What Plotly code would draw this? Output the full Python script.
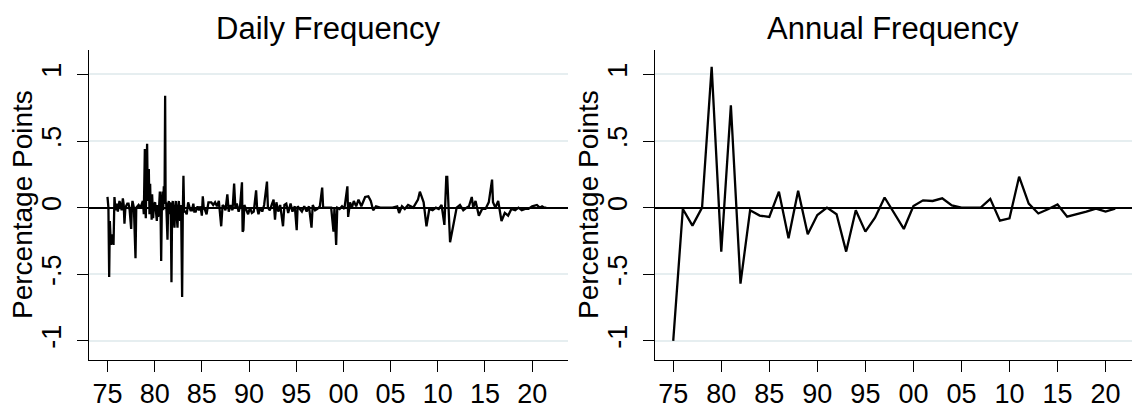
# Daily vs annual frequency, two panels

import plotly.graph_objects as go

# daily changes (decimal year, percentage points)
daily_year = [
    1975.00, 1975.10, 1975.18, 1975.25, 1975.36, 1975.50, 1975.64, 1975.70, 1975.74, 1975.85,
    1975.99, 1976.10, 1976.27, 1976.40, 1976.50, 1976.63, 1976.72, 1976.80, 1976.90, 1977.10,
    1977.23, 1977.35, 1977.51, 1977.58, 1977.65, 1977.80, 1977.97, 1978.05, 1978.30, 1978.50,
    1978.75, 1978.85, 1978.96, 1979.02, 1979.06, 1979.14, 1979.20, 1979.27, 1979.38, 1979.45,
    1979.52, 1979.58, 1979.63, 1979.68, 1979.73, 1979.84, 1979.92, 1980.05, 1980.12, 1980.23,
    1980.30, 1980.37, 1980.45, 1980.55, 1980.62, 1980.69, 1980.76, 1980.83, 1980.90, 1980.97,
    1981.05, 1981.11, 1981.16, 1981.22, 1981.29, 1981.36, 1981.43, 1981.50, 1981.57, 1981.64,
    1981.71, 1981.78, 1981.85, 1981.92, 1982.00, 1982.10, 1982.17, 1982.24, 1982.33, 1982.42,
    1982.49, 1982.56, 1982.63, 1982.70, 1982.80, 1982.91, 1982.98, 1983.05, 1983.12, 1983.25,
    1983.40, 1983.55, 1983.70, 1983.80, 1983.95, 1984.10, 1984.20, 1984.35, 1984.55, 1984.70,
    1984.85, 1985.00, 1985.10, 1985.20, 1985.35, 1985.50, 1985.70, 1986.00, 1986.20, 1986.40,
    1986.60, 1986.80, 1987.05, 1987.20, 1987.35, 1987.50, 1987.70, 1987.85, 1988.05, 1988.25,
    1988.42, 1988.55, 1988.70, 1988.90, 1989.05, 1989.25, 1989.32, 1989.40, 1989.50, 1989.70,
    1989.90, 1990.10, 1990.30, 1990.50, 1990.75, 1990.85, 1991.00, 1991.20, 1991.40, 1991.60,
    1991.90, 1992.00, 1992.20, 1992.40, 1992.60, 1992.75, 1992.90, 1993.10, 1993.30, 1993.60,
    1993.75, 1993.95, 1994.15, 1994.40, 1994.60, 1994.85, 1995.05, 1995.15, 1995.35, 1995.60,
    1995.85, 1996.10, 1996.35, 1996.62, 1996.75, 1997.00, 1997.25, 1997.50, 1997.75, 1997.85,
    1998.10, 1998.40, 1998.70, 1998.95, 1999.05, 1999.23, 1999.35, 1999.60, 1999.85, 2000.10,
    2000.42, 2000.50, 2000.70, 2000.90, 2001.10, 2001.35, 2001.60, 2001.90, 2002.30, 2002.64,
    2002.90, 2003.15, 2003.45, 2003.90, 2004.50, 2005.20, 2005.70, 2005.90, 2006.20, 2006.50,
    2006.85, 2007.40, 2007.90, 2008.10, 2008.30, 2008.50, 2008.80, 2009.10, 2009.45, 2009.80,
    2010.10, 2010.40, 2010.70, 2010.90, 2011.00, 2011.30, 2011.65, 2012.00, 2012.35, 2012.70,
    2013.05, 2013.30, 2013.60, 2013.75, 2014.00, 2014.35, 2014.70, 2015.05, 2015.40, 2015.75,
    2015.85, 2016.10, 2016.40, 2016.75, 2017.10, 2017.45, 2017.80, 2018.20, 2018.55, 2018.90,
    2019.25, 2019.60, 2020.00, 2020.50, 2020.80, 2021.05, 2021.30, 2021.50,
]
daily_change = [
    0.08, 0.00, -0.52, -0.10, -0.28, -0.20, -0.28, 0.00, 0.08, -0.02,
    0.03, -0.03, 0.05, 0.02, -0.02, 0.07, 0.02, -0.12, 0.00, 0.03,
    0.03, -0.02, -0.16, 0.00, 0.05, 0.00, -0.38, 0.00, 0.02, 0.00,
    0.05, -0.05, 0.44, 0.00, -0.08, 0.30, 0.48, 0.05, 0.29, -0.05,
    0.18, -0.03, 0.03, -0.09, 0.10, -0.08, 0.02, 0.04, -0.05, -0.10,
    0.02, -0.07, -0.02, 0.12, 0.00, -0.40, 0.00, 0.12, -0.02, 0.16,
    0.10, 0.84, 0.03, 0.04, -0.10, -0.24, 0.00, 0.05, -0.05, 0.04,
    -0.05, -0.56, 0.00, 0.05, -0.05, -0.15, 0.00, 0.05, -0.05, -0.15,
    0.00, 0.05, -0.02, -0.10, 0.02, -0.67, -0.05, 0.24, -0.03, -0.03,
    -0.05, 0.04, 0.00, -0.02, -0.02, 0.03, -0.03, -0.03, 0.01, -0.02,
    0.01, -0.06, 0.085, 0.00, -0.02, -0.05, 0.04, 0.04, 0.02, 0.04,
    0.01, 0.05, -0.14, 0.02, 0.01, -0.02, 0.10, -0.03, 0.02, -0.02,
    0.18, 0.00, 0.03, -0.03, 0.01, 0.19, -0.18, -0.17, 0.02, -0.01,
    -0.05, 0.00, -0.04, -0.03, 0.13, 0.00, -0.05, 0.00, -0.03, 0.02,
    0.195, 0.00, -0.02, 0.02, 0.06, -0.09, 0.04, -0.03, 0.02, -0.14,
    0.02, 0.03, -0.04, 0.03, -0.03, 0.01, -0.17, 0.01, -0.01, -0.03,
    0.01, -0.03, 0.01, -0.15, 0.02, -0.02, -0.01, 0.01, 0.15, 0.00,
    0.00, 0.00, 0.00, -0.18, 0.00, -0.28, 0.00, -0.01, 0.01, -0.01,
    0.16, -0.07, 0.04, 0.00, 0.05, 0.01, 0.06, 0.01, 0.08, 0.085,
    0.05, -0.02, 0.01, 0.00, 0.00, 0.00, 0.01, -0.04, 0.01, -0.01,
    0.02, 0.00, 0.06, 0.12, 0.08, 0.04, -0.14, -0.01, -0.02, 0.00,
    -0.01, 0.02, -0.13, 0.23, 0.23, -0.26, -0.13, 0.00, 0.02, -0.02,
    0.00, 0.01, 0.08, 0.00, 0.05, -0.06, -0.01, -0.01, 0.04, 0.21,
    0.04, 0.00, 0.05, -0.10, -0.04, -0.06, -0.01, -0.02, 0.00, -0.02,
    -0.01, -0.01, 0.01, 0.02, 0.00, 0.01, 0.00, 0.00,
]

# annual changes
annual_year = list(range(1975, 2022))
annual_change = [
    -1.0, -0.01, -0.135, 0.0, 1.056, -0.33, 0.768, -0.57, -0.02, -0.06,
    -0.07, 0.12, -0.23, 0.127, -0.2, -0.056, 0.0, -0.05, -0.33, -0.02,
    -0.18, -0.076, 0.076, -0.044, -0.16, 0.012, 0.055, 0.05, 0.07, 0.017,
    0.0, 0.0, 0.0, 0.066, -0.098, -0.08, 0.232, 0.03, -0.044, -0.012,
    0.024, -0.068, -0.05, -0.03, -0.007, -0.03, -0.008,
]

x_ticks = list(range(1975, 2021, 5))
x_labels = ["75", "80", "85", "90", "95", "00", "05", "10", "15", "20"]
y_ticks = [-1, -0.5, 0, 0.5, 1]
y_labels = ["-1", "-.5", "0", ".5", "1"]
panel_titles = ["Daily Frequency", "Annual Frequency"]

FONT = "Liberation Sans, Arial, sans-serif"
GRID = "#E6EEF0"

fig = go.Figure()
fig.add_trace(go.Scatter(x=daily_year, y=daily_change, mode="lines",
                         line=dict(color="black", width=2.3), xaxis="x", yaxis="y"))
fig.add_trace(go.Scatter(x=annual_year, y=annual_change, mode="lines",
                         line=dict(color="black", width=2.3), xaxis="x2", yaxis="y2"))

xaxis_common = dict(tickvals=x_ticks, ticktext=x_labels, showgrid=False, zeroline=False,
                    showline=True, linecolor="black", linewidth=1.3,
                    ticks="outside", ticklen=11, tickwidth=1.3, tickcolor="black",
                    ticklabelstandoff=-2,
                    tickfont=dict(size=27, color="black", family=FONT))
yaxis_common = dict(tickvals=y_ticks, ticktext=y_labels, range=[-1.145, 1.186],
                    showgrid=True, gridcolor=GRID, gridwidth=1.5,
                    zeroline=True, zerolinecolor="black", zerolinewidth=1.6,
                    showline=True, linecolor="black", linewidth=1.3,
                    ticks="outside", ticklen=11, tickwidth=1.3, tickcolor="black",
                    tickangle=-90, ticklabelstandoff=5,
                    tickfont=dict(size=27, color="black", family=FONT))

fig.update_layout(
    width=1132, height=409,
    margin=dict(l=0, r=0, t=0, b=0),
    paper_bgcolor="white", plot_bgcolor="white",
    showlegend=False,
    xaxis=dict(domain=[0.0786, 0.5018], range=[1973.04, 2023.8], anchor="y", **xaxis_common),
    yaxis=dict(domain=[0.0995, 0.876], anchor="x", **yaxis_common),
    xaxis2=dict(domain=[0.5786, 1.0], range=[1973.1, 2022.75], anchor="y2", **xaxis_common),
    yaxis2=dict(domain=[0.0995, 0.876], anchor="x2", **yaxis_common),
)

# panel titles
for xc, txt in zip([0.290, 0.789], panel_titles):
    fig.add_annotation(x=xc, y=1.0, xref="paper", yref="paper", xanchor="center", yanchor="top",
                       yshift=-9, text=txt, showarrow=False,
                       font=dict(size=31, color="black", family=FONT))

# y axis titles
for xc in [0.0194, 0.5194]:
    fig.add_annotation(x=xc, y=0.490, xref="paper", yref="paper", xanchor="center", yanchor="middle",
                       text="Percentage Points", textangle=-90, showarrow=False,
                       font=dict(size=28, color="black", family=FONT))

# page body has a default margin, drop it so the figure sits at the window corner
fig.write_html("out.html", config={"displayModeBar": False},
               post_script="document.body.style.margin='0';")
